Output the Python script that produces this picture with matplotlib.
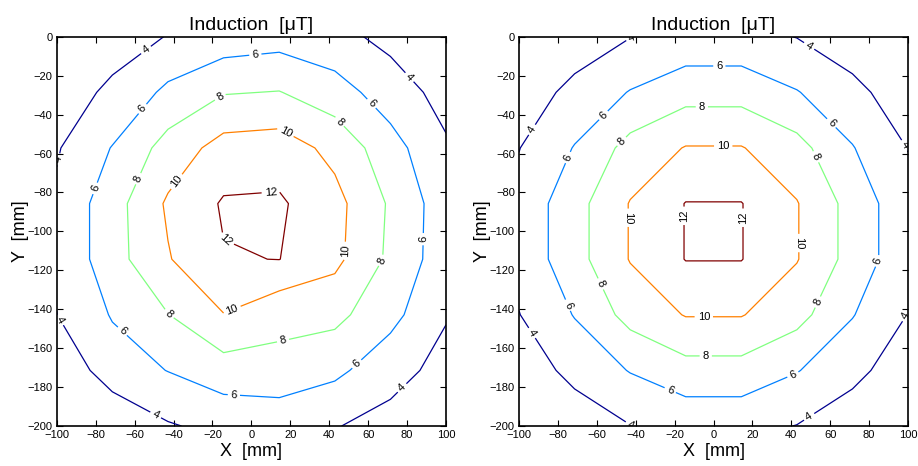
import numpy as np
import matplotlib
matplotlib.use("Agg")
import matplotlib.pyplot as plt

plt.rcParams['font.family'] = ['Liberation Sans', 'DejaVu Sans']

# measurement grid [mm]
x_mm = [-100, -71.43, -42.86, -14.29, 14.29, 42.86, 71.43, 100]
y_mm = [0, -28.57, -57.14, -85.71, -114.29, -142.86, -171.43, -200]

# induction [uT], rows follow y_mm, columns follow x_mm
induction_left = [
    [2.2, 3.4, 4.05, 4.85, 5.2, 4.59, 3.45, 2.4],
    [3.31, 4.27, 6.46, 7.88, 8.07, 6.88, 5.0, 3.31],
    [3.83, 6.09, 8.78, 10.78, 11.02, 9.43, 6.78, 4.25],
    [4.33, 7.16, 10.28, 12.2, 12.27, 10.64, 7.74, 4.86],
    [4.27, 7.2, 9.86, 11.89, 12.03, 10.51, 7.59, 4.85],
    [3.98, 6.15, 7.95, 9.94, 8.47, 8.55, 6.6, 4.15],
    [2.5, 5.0, 6.05, 7.09, 7.49, 6.45, 4.78, 3.31],
    [1.6, 2.4, 3.82, 4.56, 4.45, 4.1, 3.28, 2.0],
]
induction_right = [
    [2.0, 2.8, 3.95, 4.6, 4.6, 3.95, 2.8, 2.0],
    [2.8, 4.6, 6.1, 7.26, 7.26, 6.1, 4.6, 2.8],
    [3.95, 6.1, 8.7, 10.1, 10.1, 8.7, 6.1, 3.95],
    [4.6, 7.26, 10.1, 12.06, 12.06, 10.1, 7.26, 4.6],
    [4.6, 7.26, 10.1, 12.06, 12.06, 10.1, 7.26, 4.6],
    [3.95, 6.1, 8.7, 10.1, 10.1, 8.7, 6.1, 3.95],
    [2.8, 4.6, 6.1, 7.26, 7.26, 6.1, 4.6, 2.8],
    [2.0, 2.8, 3.95, 4.6, 4.6, 3.95, 2.8, 2.0],
]
levels = [4, 6, 8, 10, 12]
level_colors = ['#00008f', '#0080ff', '#80ff80', '#ff8000', '#800000']

# where the inline labels sit
labels_left = [(-54, -7), (81, -21), (-99, -63), (-99, -146), (-49, -194), (77, -180),
               (2, -9), (61, -35), (-56, -37), (-80, -78), (88, -104), (-66, -151),
               (54, -168), (-9, -184),
               (-16, -31), (45, -44), (-58, -73), (67, -115), (-45, -145), (16, -155),
               (17, -50), (-39, -74), (48, -110), (-10, -140),
               (10, -80), (-13, -104)]
labels_right = [(-42, -1), (49, -5), (-93, -48), (98, -56), (-93, -152), (98, -143),
                (-42, -198), (49, -195),
                (3, -15), (-57, -40), (61, -44), (-75, -62), (84, -115), (-75, -138),
                (41, -174), (-22, -181),
                (-6, -35), (-47, -54), (52, -62), (-58, -127), (53, -136), (-4, -164),
                (5, -55), (-45, -93), (44, -106), (-5, -144),
                (-15, -92), (15, -93)]

fig = plt.figure(figsize=(9.18, 4.66), dpi=100)
ax1 = fig.add_axes([0.0618, 0.0858, 0.4241, 0.8354])
ax2 = fig.add_axes([0.5654, 0.0858, 0.4237, 0.8354])

X, Y = np.meshgrid(x_mm, y_mm)
for ax, data, lab in [(ax1, induction_left, labels_left), (ax2, induction_right, labels_right)]:
    cs = ax.contour(X, Y, np.array(data), levels=levels, colors=level_colors, linewidths=0.9)
    ax.clabel(cs, manual=lab, inline=True, fmt='%d', fontsize=8, colors='black', inline_spacing=3)
    ax.set_xlim(-100, 100)
    ax.set_ylim(-200, 0)
    ax.set_xticks(range(-100, 101, 20))
    ax.set_yticks(range(-200, 1, 20))
    ax.tick_params(direction='in', length=4, width=0.8, top=True, right=True, labelsize=8, pad=3)
    for sp in ax.spines.values():
        sp.set_linewidth(1.2)
    ax.set_title('Induction  [\u03bcT]', fontsize=14, pad=5)
    ax.set_xlabel('X  [mm]', fontsize=13, labelpad=2)
    ax.set_ylabel('Y  [mm]', fontsize=13, labelpad=-1)

fig.savefig('out.png', dpi=100)
